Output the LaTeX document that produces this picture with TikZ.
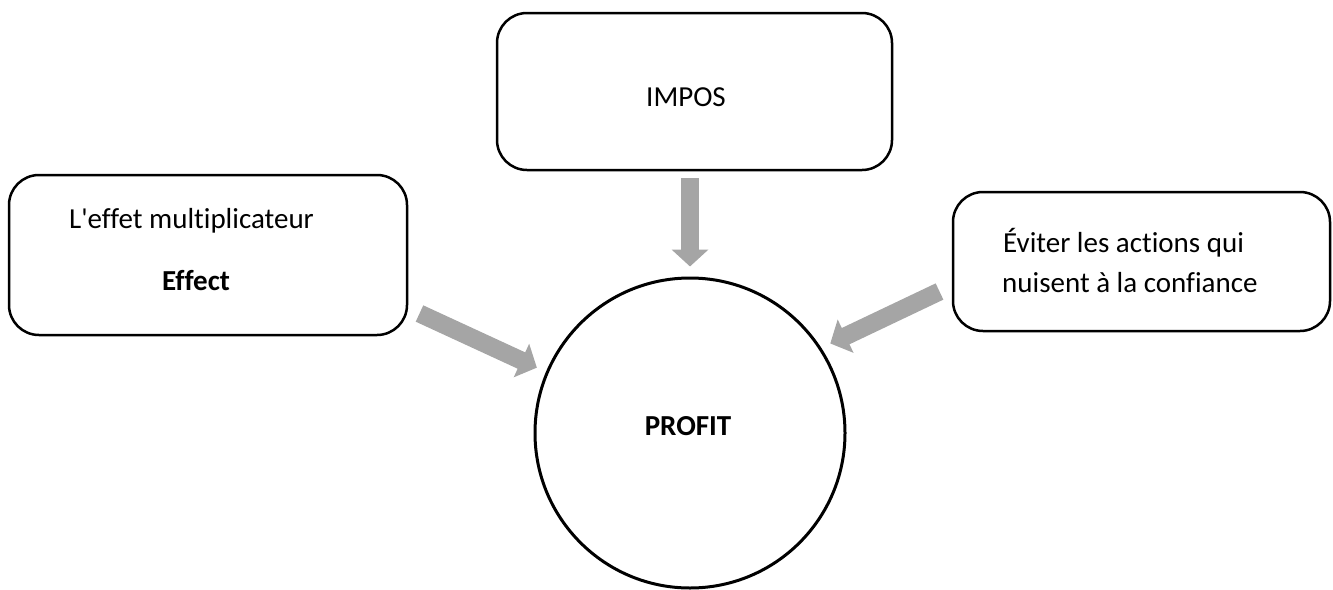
\documentclass[tikz,border=0pt]{standalone}
\usepackage{fontspec}
\setmainfont{Carlito}[Ligatures={NoCommon}]
\usetikzlibrary{arrows.meta}
\definecolor{arrowgray}{HTML}{A5A5A5}
\begin{document}
\begin{tikzpicture}[x=1pt,y=-1pt,
  box/.style={draw=black, line width=2.5pt, rounded corners=30pt, inner sep=0pt},
  label/.style={inner sep=0pt, font=\fontsize{29}{40}\selectfont},
  bigarrow/.style={draw=arrowgray, line width=18pt,
    -{Triangle[length=17pt,width=36pt]}, shorten >=10pt}]
  \useasboundingbox (0,0) rectangle (1333,589);

  % boxes
  \node[box, minimum width=398pt, minimum height=160pt] (mult) at (208,255) {};
  \node[box, minimum width=395pt, minimum height=157pt] (impos) at (694.5,91.5) {};
  \node[box, minimum width=377pt, minimum height=139pt] (trust) at (1141.5,261.5) {};
  \node[draw=black, line width=3pt, circle, minimum size=310pt, inner sep=0pt] (profit) at (690,433) {};

  % texts
  \node[label, anchor=base] (multA) at (191.5,228) {L\textquotesingle effet multiplicateur};
  \node[label, anchor=base, font=\fontsize{29}{40}\selectfont\bfseries] (multB) at (196,290) {Effect};
  \node[label, anchor=base] (imposT) at (686,106) {IMPOS};
  \node[label, anchor=base west] (trustA) at (1003,252) {Éviter les actions qui};
  \node[label, anchor=base west] (trustB) at (1002,292) {nuisent à la confiance};
  \node[label, anchor=base, font=\fontsize{29}{40}\selectfont\bfseries] (profitT) at (688,435) {PROFIT};

  % arrow tails
  \coordinate (tailL) at (419.5,313.5);
  \coordinate (tailT) at (690,178);
  \coordinate (tailR) at (939.5,291.5);

  % arrows into the circle
  \draw[bigarrow] (tailL) -- (profit.157.7);
  \draw[bigarrow] (tailT) -- (profit.north);
  \draw[bigarrow] (tailR) -- (profit.33);
\end{tikzpicture}
\end{document}
